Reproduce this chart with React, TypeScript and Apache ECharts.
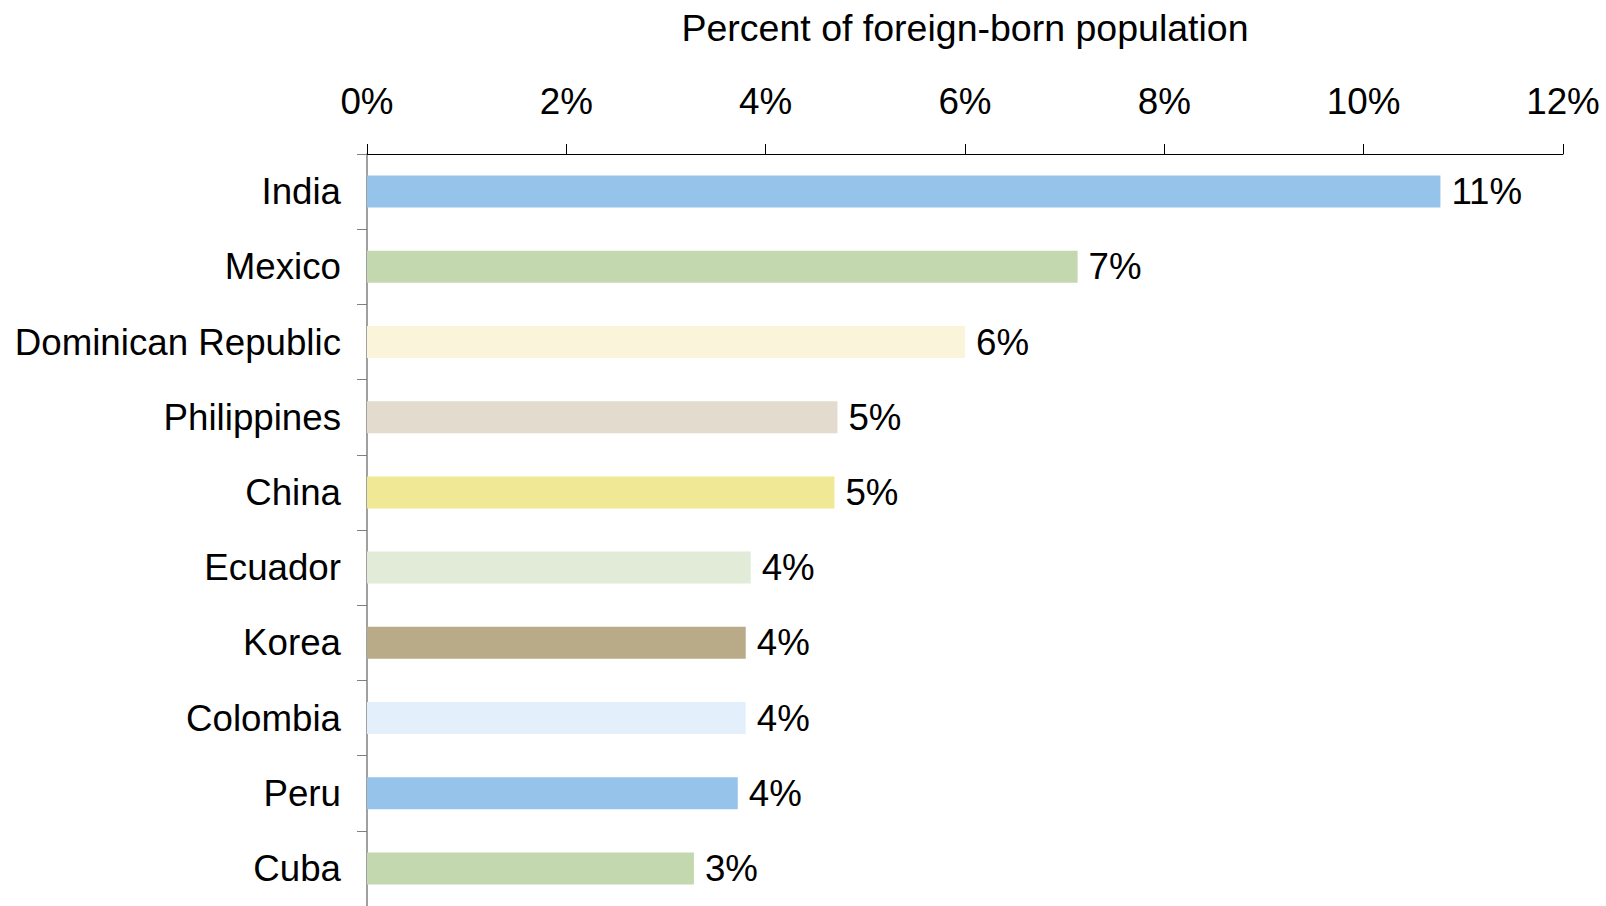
import React, { useEffect, useRef } from "react";
import * as echarts from "echarts";

const categories = [
  "India",
  "Mexico",
  "Dominican Republic",
  "Philippines",
  "China",
  "Ecuador",
  "Korea",
  "Colombia",
  "Peru",
  "Cuba",
];
const values = [10.77, 7.13, 6.0, 4.72, 4.69, 3.85, 3.8, 3.8, 3.72, 3.28];
const valueLabels = ["11%", "7%", "6%", "5%", "5%", "4%", "4%", "4%", "4%", "3%"];
const barColors = [
  "#95C3EA",
  "#C3D8AE",
  "#FAF4DA",
  "#E2DBCE",
  "#F0E894",
  "#E2EBD8",
  "#B9AB88",
  "#E4EFFC",
  "#95C3EA",
  "#C3D8AE",
];
const xTicks = [0, 2, 4, 6, 8, 10, 12];
const axisTitle = "Percent of foreign-born population";

const FONT = "'Liberation Sans', Arial, sans-serif";

export default function App() {
  const ref = useRef<HTMLDivElement>(null);

  useEffect(() => {
    document.body.style.margin = "0";
    if (!ref.current) return;
    const chart = echarts.init(ref.current, undefined, { renderer: "svg" });
    chart.setOption({
      animation: false,
      backgroundColor: "#ffffff",
      grid: { left: 367, top: 154, width: 1196, height: 754, containLabel: false },
      xAxis: {
        type: "value",
        position: "top",
        min: xTicks[0],
        max: xTicks[xTicks.length - 1],
        interval: 2,
        name: axisTitle,
        nameLocation: "middle",
        nameGap: 126,
        nameTextStyle: {
          fontFamily: FONT,
          fontSize: 37.5,
          color: "#000",
          verticalAlign: "middle",
        },
        axisLine: { show: true, lineStyle: { color: "#000", width: 1 } },
        axisTick: { show: true, length: 10, inside: false, lineStyle: { color: "#000" } },
        axisLabel: {
          fontFamily: FONT,
          fontSize: 36.8,
          color: "#000",
          margin: 34,
          formatter: (v: number) => `${v}%`,
        },
        splitLine: { show: false },
      },
      yAxis: {
        type: "category",
        data: categories,
        inverse: true,
        axisLine: { show: true, lineStyle: { color: "#808080", width: 1.5 } },
        axisTick: { show: true, length: 10, lineStyle: { color: "#808080" } },
        axisLabel: {
          fontFamily: FONT,
          fontSize: 36.7,
          color: "#000",
          margin: 26,
        },
      },
      series: [
        {
          type: "bar",
          barWidth: 32,
          data: values.map((v, i) => ({ value: v, itemStyle: { color: barColors[i] } })),
          label: {
            show: true,
            position: "right",
            distance: 11,
            fontFamily: FONT,
            fontSize: 36.7,
            color: "#000",
            formatter: (p: any) => valueLabels[p.dataIndex],
          },
        },
      ],
    });
    return () => chart.dispose();
  }, []);

  return <div ref={ref} style={{ width: 1606, height: 906, position: "absolute", left: 0, top: 0 }} />;
}
